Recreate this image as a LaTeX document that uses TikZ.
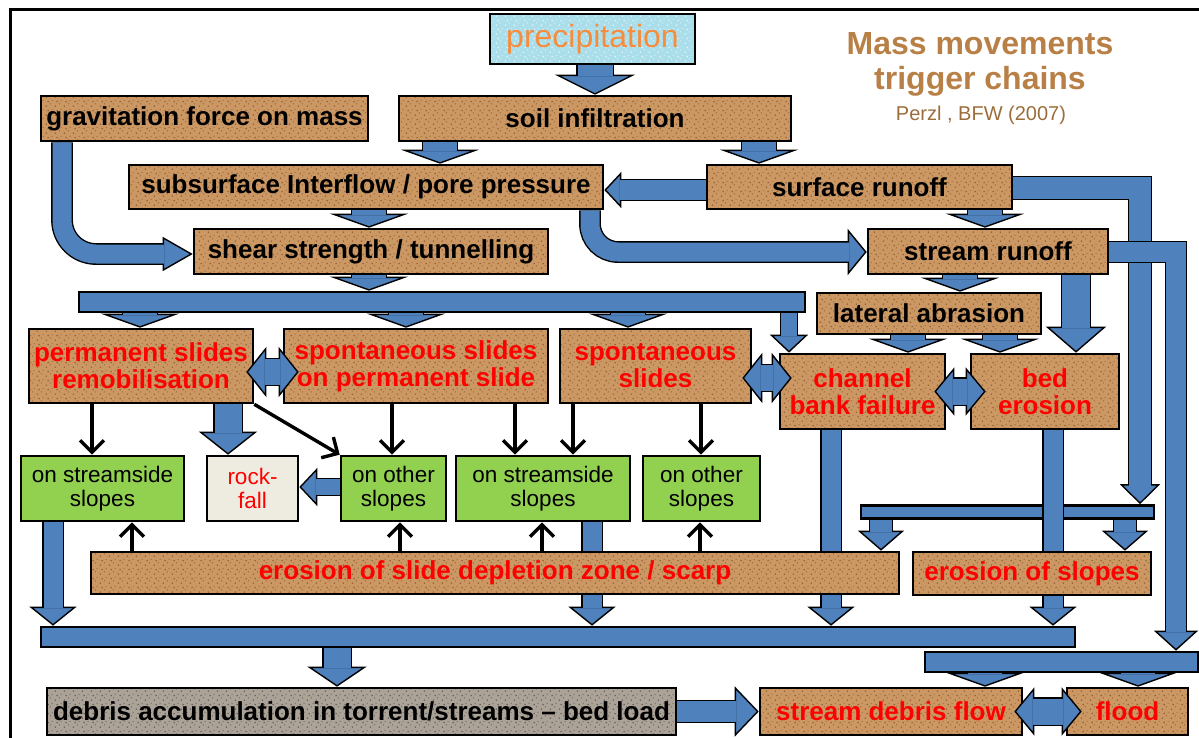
\documentclass[tikz,border=0pt]{standalone}
\usepackage{fontspec}
\setmainfont{Liberation Sans}
\usetikzlibrary{arrows.meta,patterns,backgrounds}

\definecolor{corkbrown}{RGB}{203,152,100}
\definecolor{corkdark}{RGB}{150,96,52}
\definecolor{gravelgrey}{RGB}{172,163,152}
\definecolor{gravelspeck}{RGB}{105,96,88}
\definecolor{rainblue}{RGB}{170,222,234}
\definecolor{slopegreen}{RGB}{146,208,80}
\definecolor{rockbeige}{RGB}{238,236,225}
\definecolor{flowblue}{RGB}{79,129,189}
\definecolor{titlebrown}{RGB}{184,128,70}
\definecolor{rainorange}{RGB}{247,140,60}

\newcommand\labelfont{\fontsize{26}{27}\selectfont\bfseries}
\newcommand\slopefont{\fontsize{22.5}{24}\selectfont}

\newcommand\fatarrow[2][]{%
  \draw[#1,fatedge] #2;
  \draw[#1,fatcore] #2;
}
\newcommand\fatboth[2][]{%
  \draw[#1,fatedge,fat tips both] #2;
  \draw[#1,fatcore,shorten <=\headl-1.5pt] #2;
}

\tikzset{
  shaft/.store in=\shaftw, head/.store in=\headw, headlen/.store in=\headl,
  shaft=22pt, head=50pt, headlen=22pt,
  fatedge/.style={draw=black, line width=\shaftw+2.8pt,
    -{Triangle[width=\headw,length=\headl,line width=1.4pt,fill=flowblue]}},
  fatcore/.style={draw=flowblue, line width=\shaftw, shorten >=\headl-1.5pt},
  fat tips both/.style={{Triangle[width=\headw,length=\headl,line width=1.4pt,fill=flowblue]}-{Triangle[width=\headw,length=\headl,line width=1.4pt,fill=flowblue]}},
  stubby/.style={shaft=34pt, head=78pt, headlen=14pt},
  cork/.style={draw, line width=2.6pt, preaction={fill=corkbrown}, pattern=cork grain,
    pattern color=corkdark, inner sep=0pt, align=center, font=\labelfont},
  redtext/.style={text=red},
  slope/.style={draw, line width=2.6pt, fill=slopegreen, inner sep=0pt, align=center, font=\slopefont},
  bar/.style={draw, line width=2.6pt, fill=flowblue, inner sep=0pt},
  thin/.style={line width=3.4pt, -{Straight Barb[length=12pt,width=24pt]}},
}

\begin{document}
\begin{tikzpicture}[x=1pt,y=-1pt]
  \pgfdeclarepatternformonly{cork grain}
    {\pgfpointorigin}
    {\pgfqpoint{9pt}{9pt}}
    {\pgfqpoint{9pt}{9pt}}
    {
      \pgfpathcircle{\pgfqpoint{1.5pt}{2pt}}{.9pt}
      \pgfpathcircle{\pgfqpoint{6pt}{4.5pt}}{.7pt}
      \pgfpathcircle{\pgfqpoint{3.5pt}{7pt}}{1pt}
      \pgfpathcircle{\pgfqpoint{7.8pt}{8.2pt}}{.6pt}
      \pgfusepath{fill}
    }

  \useasboundingbox (0,0) rectangle (1199,738);
  \draw[line width=3pt] (10,740) -- (10,10) -- (1199,10);

  \node[anchor=base, text=titlebrown, font=\fontsize{32}{34}\selectfont\bfseries] (title1) at (980,55) {Mass movements};
  \node[anchor=base, text=titlebrown, font=\fontsize{32}{34}\selectfont\bfseries] (title2) at (980,90) {trigger chains};
  \node[anchor=base, text=titlebrown!85!black, font=\fontsize{20}{22}\selectfont] (source) at (981,121) {Perzl , BFW (2007)};

  \node[draw, line width=2.6pt, preaction={fill=rainblue}, pattern=cork grain, pattern color=white!70!rainblue,
    inner sep=0pt, text=rainorange, font=\fontsize{32}{34}\selectfont,
    minimum width=205pt, minimum height=50pt] (precip) at (592.5,39) {precipitation};
  \node[cork, minimum width=327pt, minimum height=45pt] (grav) at (204.5,118.5) {gravitation force on mass};
  \node[cork, minimum width=392pt, minimum height=45pt] (soil) at (595,118.5) {soil infiltration};
  \node[cork, minimum width=474pt, minimum height=44pt] (subs) at (366,187) {subsurface Interflow / pore pressure};
  \node[cork, minimum width=305pt, minimum height=44pt] (surf) at (859.5,187) {surface runoff};
  \node[cork, minimum width=354pt, minimum height=45pt] (shear) at (371,251.5) {shear strength / tunnelling};
  \node[cork, minimum width=240pt, minimum height=45pt] (stream) at (988,251.5) {stream runoff};
  \node[cork, minimum width=224pt, minimum height=41pt] (lateral) at (929,313.5) {lateral abrasion};

  \node[cork, redtext, minimum width=224pt, minimum height=74pt] (perm) at (141,366) {permanent slides\\remobilisation};
  \node[cork, redtext, minimum width=264pt, minimum height=74pt] (sponp) at (416,366) {spontaneous slides\\on permanent slide};
  \node[cork, redtext, minimum width=191pt, minimum height=74pt] (spont) at (655.5,366) {spontaneous\\slides};
  \node[cork, redtext, minimum width=165pt, minimum height=75pt] (channel) at (862.5,391.5) {channel\\bank failure};
  \node[cork, redtext, minimum width=148pt, minimum height=75pt] (bed) at (1045,391.5) {bed\\erosion};

  \node[slope, minimum width=163pt, minimum height=65pt] (side1) at (102.5,488.5) {on streamside\\slopes};
  \node[slope, fill=rockbeige, text=red, minimum width=91pt, minimum height=65pt] (rock) at (252.5,488.5) {rock-\\fall};
  \node[slope, minimum width=105pt, minimum height=65pt] (other1) at (393.5,488.5) {on other\\slopes};
  \node[slope, minimum width=174pt, minimum height=65pt] (side2) at (543,488.5) {on streamside\\slopes};
  \node[slope, minimum width=117pt, minimum height=65pt] (other2) at (701.5,488.5) {on other\\slopes};

  \node[cork, redtext, minimum width=808pt, minimum height=42pt] (scarp) at (495,573) {erosion of slide depletion zone / scarp};
  \node[cork, redtext, minimum width=238pt, minimum height=43pt] (eslopes) at (1032,573.5) {erosion of slopes};

  \node[cork, preaction={fill=gravelgrey}, pattern color=gravelspeck, minimum width=629pt, minimum height=47pt] (debris) at (361.5,711.5) {debris accumulation in torrent/streams -- bed load};
  \node[cork, redtext, minimum width=262pt, minimum height=47pt] (dflow) at (891,711.5) {stream debris flow};
  \node[cork, redtext, minimum width=121pt, minimum height=47pt] (flood) at (1127.5,711.5) {flood};

  \begin{scope}[on background layer]
    \node[bar, minimum width=726pt, minimum height=20pt] (slidebar) at (442,302) {};
    \node[bar, minimum width=293pt, minimum height=13pt] (slopebar) at (1007.5,512) {};
    \node[bar, minimum width=1034pt, minimum height=20pt] (debrisbar) at (558,637) {};
    \node[bar, minimum width=273pt, minimum height=20pt] (floodbar) at (1061.5,662) {};

    \fatarrow[shaft=35pt,head=80pt,headlen=20pt]{(595,0 |- precip.south) -- (595,0 |- soil.north)}
    \fatarrow[stubby]{(440,0 |- soil.south) -- (440,0 |- subs.north)}
    \fatarrow[stubby]{(759,0 |- soil.south) -- (759,0 |- surf.north)}
    \fatarrow[stubby]{(369,0 |- subs.south) -- (369,0 |- shear.north)}
    \fatarrow[stubby]{(369,0 |- shear.south) -- (369,0 |- slidebar.north)}
    \fatarrow[stubby]{(985,0 |- surf.south) -- (985,0 |- stream.north)}
    \fatarrow[stubby]{(960,0 |- stream.south) -- (960,0 |- lateral.north)}
    \fatarrow[stubby]{(908,0 |- lateral.south) -- (908,0 |- channel.north)}
    \fatarrow[stubby]{(1000,0 |- lateral.south) -- (1000,0 |- bed.north)}
    \fatarrow[stubby]{(140,0 |- slidebar.south) -- (140,0 |- perm.north)}
    \fatarrow[stubby]{(406,0 |- slidebar.south) -- (406,0 |- sponp.north)}
    \fatarrow[stubby]{(628,0 |- slidebar.south) -- (628,0 |- spont.north)}
    \fatarrow[stubby]{(985,0 |- floodbar.south) -- (985,0 |- dflow.north)}
    \fatarrow[stubby]{(1138,0 |- floodbar.south) -- (1138,0 |- flood.north)}

    \fatarrow[shaft=19pt,head=34pt,headlen=30pt,rounded corners=34pt]{(62,0 |- grav.south) |- (shear.west |- 0,254)}
    \fatarrow[shaft=19pt,head=46pt,headlen=19pt,rounded corners=28pt]{(590,0 |- subs.south) |- (stream.west |- 0,252)}
    \fatarrow[shaft=20pt,head=36pt,headlen=17pt]{(surf.west |- 0,190) -- (subs.east |- 0,190)}
    \fatarrow[shaft=22pt,head=40pt,headlen=20pt]{(surf.east |- 0,188) -| (1140,0 |- slopebar.north)}
    \fatarrow[shaft=20pt,head=44pt,headlen=20pt]{(stream.east |- 0,252) -| (1176,0 |- floodbar.north)}

    \fatarrow[shaft=27pt,head=58pt,headlen=23pt]{(228,0 |- perm.south) -- (228,0 |- rock.north)}
    \fatarrow[shaft=28pt,head=60pt,headlen=26pt]{(1076,0 |- stream.south) -- (1076,0 |- bed.north)}
    \fatarrow[shaft=16pt,head=38pt,headlen=18pt]{(789,0 |- slidebar.south) -- (789,0 |- channel.north)}
    \fatarrow[shaft=16pt,head=38pt,headlen=18pt]{(other1.west |- 0,487) -- (rock.east |- 0,487)}
    \fatarrow[shaft=19pt,head=47pt,headlen=19pt]{(53,0 |- side1.south) -- (53,0 |- debrisbar.north)}
    \fatarrow[shaft=19pt,head=47pt,headlen=19pt]{(592,0 |- side2.south) -- (592,0 |- debrisbar.north)}
    \fatarrow[shaft=19pt,head=47pt,headlen=19pt]{(831,0 |- channel.south) -- (831,0 |- debrisbar.north)}
    \fatarrow[shaft=19pt,head=47pt,headlen=19pt]{(1053,0 |- bed.south) -- (1053,0 |- debrisbar.north)}
    \fatarrow[shaft=22pt,head=46pt,headlen=20pt]{(881,0 |- slopebar.south) -- (881,0 |- scarp.north)}
    \fatarrow[shaft=22pt,head=46pt,headlen=20pt]{(1125,0 |- slopebar.south) -- (1125,0 |- eslopes.north)}
    \fatarrow[shaft=27pt,head=59pt,headlen=20pt]{(337,0 |- debrisbar.south) -- (337,0 |- debris.north)}
    \fatarrow[shaft=21pt,head=50pt,headlen=24pt]{(debris.east) -- (dflow.west)}
  \end{scope}

  \fatboth[shaft=26pt,head=50pt,headlen=20pt]{([xshift=-8pt,yshift=-6pt]perm.east) -- ([xshift=16pt,yshift=-6pt]sponp.west)}
  \fatboth[shaft=26pt,head=50pt,headlen=20pt]{([xshift=-10pt,yshift=-12pt]spont.east) -- ([xshift=13pt,yshift=13.5pt]channel.west)}
  \fatboth[shaft=26pt,head=48pt,headlen=20pt]{([xshift=-12pt]channel.east) -- ([xshift=16pt]bed.west)}
  \fatboth[shaft=26pt,head=48pt,headlen=20pt]{([xshift=-9pt]dflow.east) -- ([xshift=16pt]flood.west)}

  \draw[thin] (92,0 |- perm.south) -- (92,0 |- side1.north);
  \draw[thin] (perm.south east) -- (other1.north west);
  \draw[thin] (392,0 |- sponp.south) -- (392,0 |- other1.north);
  \draw[thin] (515,0 |- sponp.south) -- (515,0 |- side2.north);
  \draw[thin] (573,0 |- spont.south) -- (573,0 |- side2.north);
  \draw[thin] (701,0 |- spont.south) -- (701,0 |- other2.north);
  \draw[thin] (132,0 |- scarp.north) -- (132,0 |- side1.south);
  \draw[thin] (400,0 |- scarp.north) -- (400,0 |- other1.south);
  \draw[thin] (542,0 |- scarp.north) -- (542,0 |- side2.south);
  \draw[thin] (700,0 |- scarp.north) -- (700,0 |- other2.south);
\end{tikzpicture}
\end{document}
